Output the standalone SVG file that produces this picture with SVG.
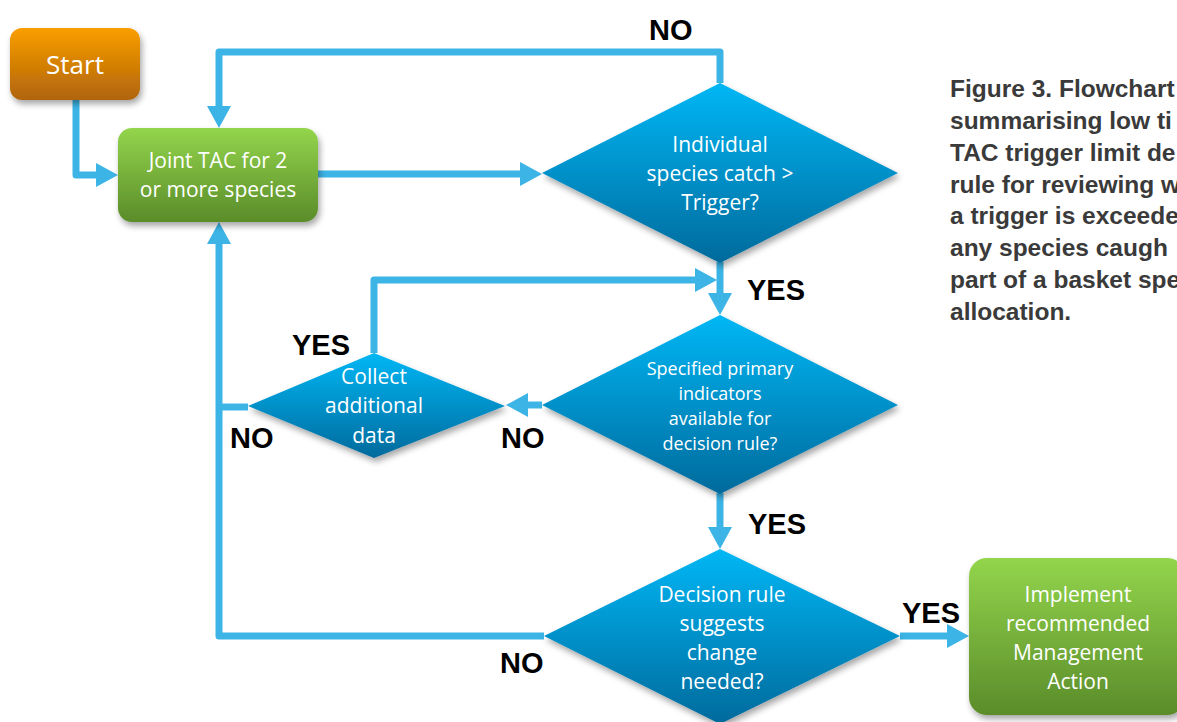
<svg xmlns="http://www.w3.org/2000/svg" width="1177" height="722" viewBox="0 0 1177 722">
<style>
.conn{fill:none;stroke:#3db4e6;stroke-width:7;stroke-linejoin:round}
.nt{font-family:"Open Sans","Liberation Sans",sans-serif;fill:#ffffff;text-anchor:middle}
.lbl{font-family:"Liberation Sans",Arial,sans-serif;font-weight:bold;font-size:29px;fill:#000}
.cap{font-family:"Liberation Sans",Arial,sans-serif;font-weight:bold;font-size:24.5px;fill:#3a3a3a}
</style>
<defs>
<linearGradient id="gOr" x1="0" y1="0" x2="0" y2="1"><stop offset="0" stop-color="#fa9e00"/><stop offset="1" stop-color="#b0640a"/></linearGradient>
<linearGradient id="gGr" x1="0" y1="0" x2="0" y2="1"><stop offset="0" stop-color="#93d54c"/><stop offset="1" stop-color="#5a8c2a"/></linearGradient>
<linearGradient id="gBl" x1="0" y1="0" x2="0" y2="1"><stop offset="0" stop-color="#00b7f5"/><stop offset="1" stop-color="#006a9c"/></linearGradient>
<filter id="sh" x="-10%" y="-10%" width="125%" height="130%"><feDropShadow dx="2" dy="4" stdDeviation="3" flood-color="#000" flood-opacity="0.35"/></filter>
<marker id="ah" viewBox="0 0 22 24" markerUnits="userSpaceOnUse" markerWidth="22" markerHeight="24" refX="0" refY="12" orient="auto"><path d="M0,0 L22,12 L0,24 Z" fill="#3db4e6"/></marker>
</defs>
<g id="connectors">
<path class="conn" d="M76,100 V175 H96" marker-end="url(#ah)"/>
<path class="conn" d="M318,174 H520" marker-end="url(#ah)"/>
<path class="conn" d="M720,83 V52 H219 V106" marker-end="url(#ah)"/>
<path class="conn" d="M720,262 V293" marker-end="url(#ah)"/>
<path class="conn" d="M374,353 V280 H695" marker-end="url(#ah)"/>
<path class="conn" d="M542,405 H528" marker-end="url(#ah)"/>
<path class="conn" d="M248,407 H219"/>
<path class="conn" d="M544,636 H219 V244" marker-end="url(#ah)"/>
<path class="conn" d="M720,493 V527" marker-end="url(#ah)"/>
<path class="conn" d="M900,636 H947" marker-end="url(#ah)"/>
</g>
<g id="start">
<rect x="10" y="28" width="130" height="72" rx="12" fill="url(#gOr)" filter="url(#sh)"/>
<text class="nt" x="75" y="74" font-size="26">Start</text>
</g>
<g id="joint-tac">
<rect x="118" y="128" width="200" height="94" rx="14" fill="url(#gGr)" filter="url(#sh)"/>
<text class="nt" x="218" y="168" font-size="21">Joint TAC for 2</text>
<text class="nt" x="218" y="197" font-size="21">or more species</text>
</g>
<g id="individual-catch">
<path d="M720,83 L898,173 L720,263 L542,173 Z" fill="url(#gBl)" filter="url(#sh)"/>
<text class="nt" x="720" y="152" font-size="21">Individual</text>
<text class="nt" x="720" y="181" font-size="21">species catch &gt;</text>
<text class="nt" x="720" y="210" font-size="21">Trigger?</text>
</g>
<g id="primary-indicators">
<path d="M720,315 L898,405 L720,494 L542,405 Z" fill="url(#gBl)" filter="url(#sh)"/>
<text class="nt" x="720" y="375" font-size="18">Specified primary</text>
<text class="nt" x="720" y="400" font-size="18">indicators</text>
<text class="nt" x="720" y="425" font-size="18">available for</text>
<text class="nt" x="720" y="450" font-size="18">decision rule?</text>
</g>
<g id="collect-data">
<path d="M374,353 L505,406 L374,458 L248,406 Z" fill="url(#gBl)" filter="url(#sh)"/>
<text class="nt" x="374" y="384" font-size="21">Collect</text>
<text class="nt" x="374" y="413" font-size="21">additional</text>
<text class="nt" x="374" y="443" font-size="21">data</text>
</g>
<g id="decision-rule">
<path d="M720,549 L900,636 L720,724 L544,636 Z" fill="url(#gBl)" filter="url(#sh)"/>
<text class="nt" x="722" y="602" font-size="21">Decision rule</text>
<text class="nt" x="722" y="631" font-size="21">suggests</text>
<text class="nt" x="722" y="660" font-size="21">change</text>
<text class="nt" x="722" y="689" font-size="21">needed?</text>
</g>
<g id="implement">
<rect x="969" y="558" width="216" height="157" rx="18" fill="url(#gGr)" filter="url(#sh)"/>
<text class="nt" x="1078" y="602" font-size="21">Implement</text>
<text class="nt" x="1078" y="631" font-size="21">recommended</text>
<text class="nt" x="1078" y="660" font-size="21">Management</text>
<text class="nt" x="1078" y="689" font-size="21">Action</text>
</g>
<g id="labels">
<text class="lbl" x="649" y="40">NO</text>
<text class="lbl" x="747" y="300">YES</text>
<text class="lbl" x="292" y="355">YES</text>
<text class="lbl" x="230" y="448">NO</text>
<text class="lbl" x="501" y="448">NO</text>
<text class="lbl" x="748" y="534">YES</text>
<text class="lbl" x="500" y="673">NO</text>
<text class="lbl" x="902" y="623">YES</text>
</g>
<g id="caption">
<text class="cap" x="950" y="97">Figure 3. Flowchart</text>
<text class="cap" x="950" y="129">summarising low ti</text>
<text class="cap" x="950" y="161">TAC trigger limit de</text>
<text class="cap" x="950" y="193">rule for reviewing w</text>
<text class="cap" x="950" y="224">a trigger is exceede</text>
<text class="cap" x="950" y="256">any species caugh</text>
<text class="cap" x="950" y="288">part of a basket spe</text>
<text class="cap" x="950" y="320">allocation.</text>
</g>
</svg>
